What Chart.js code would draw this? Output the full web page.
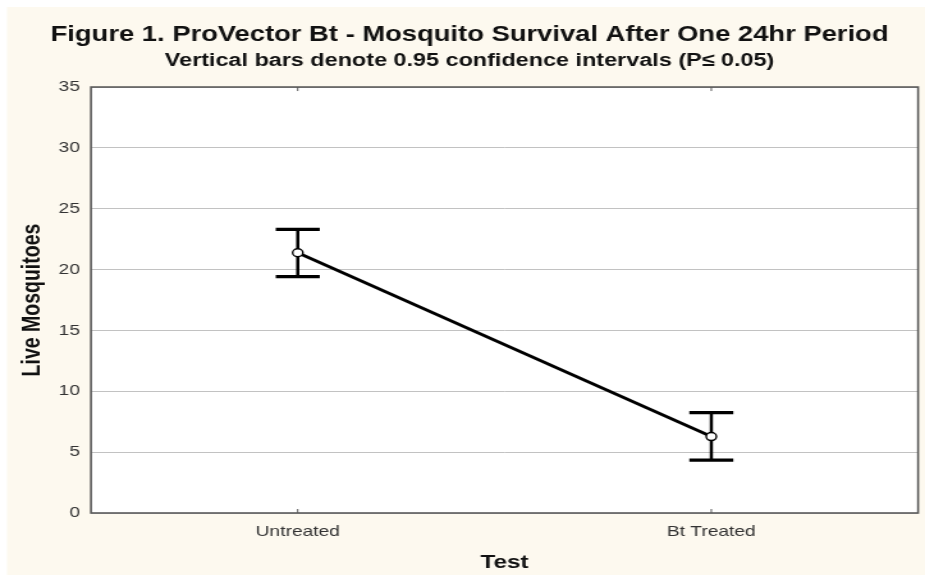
<!DOCTYPE html>
<html>
<head>
<meta charset="utf-8">
<script src="https://cdn.jsdelivr.net/npm/chart.js@4/dist/chart.umd.min.js"></script>
<style>
html,body{margin:0;padding:0;background:#fff;}
#wrap{width:925px;height:575px;position:relative;overflow:hidden;}
#c{display:block;width:925px;height:575px;}
</style>
</head>
<body>
<div id="wrap"><canvas id="c" width="723" height="575" style="width:925px;height:575px;"></canvas></div>
<script>
const categories = ["Untreated", "Bt Treated"];
const means = [21.38, 6.28];
const upperCI = [23.3, 8.25];
const lowerCI = [19.42, 4.35];
const yTicks = [0, 5, 10, 15, 20, 25, 30, 35];

const FONT = "'Liberation Sans', Arial, sans-serif";

const bgPlugin = {
  id: 'bg',
  beforeDraw(chart) {
    const ctx = chart.ctx;
    ctx.save();
    ctx.fillStyle = '#ffffff';
    ctx.fillRect(0, 0, chart.width, chart.height);
    ctx.fillStyle = '#fdf9ef';
    ctx.fillRect(5.5, 7, chart.width - 5.5, chart.height - 7);
    const a = chart.chartArea;
    ctx.fillStyle = '#ffffff';
    ctx.fillRect(a.left, a.top, a.right - a.left, a.bottom - a.top);
    ctx.restore();
  },
  afterDraw(chart) {
    const ctx = chart.ctx;
    const a = chart.chartArea;
    ctx.save();
    ctx.strokeStyle = '#5a5a5a';
    ctx.lineWidth = 1.6;
    ctx.strokeRect(a.left, a.top, a.right - a.left, a.bottom - a.top);
    const xs = chart.scales.x;
    ctx.lineWidth = 1;
    categories.forEach((c, i) => {
      const px = xs.getPixelForValue(i);
      ctx.beginPath();
      ctx.moveTo(px, a.bottom); ctx.lineTo(px, a.bottom - 4);
      ctx.moveTo(px, a.top); ctx.lineTo(px, a.top + 4);
      ctx.stroke();
    });
    ctx.restore();
  }
};

const errPlugin = {
  id: 'errbars',
  beforeDatasetsDraw(chart) {
    const ctx = chart.ctx;
    const xs = chart.scales.x, ys = chart.scales.y;
    ctx.save();
    ctx.strokeStyle = '#000';
    ctx.lineCap = 'butt';
    categories.forEach((c, i) => {
      const px = xs.getPixelForValue(i);
      const yt = ys.getPixelForValue(upperCI[i]);
      const yb = ys.getPixelForValue(lowerCI[i]);
      const hw = 17.2;
      ctx.lineWidth = 2.5;
      ctx.beginPath();
      ctx.moveTo(px, yt); ctx.lineTo(px, yb);
      ctx.stroke();
      ctx.lineWidth = 3.2;
      ctx.beginPath();
      ctx.moveTo(px - hw, yt); ctx.lineTo(px + hw, yt);
      ctx.moveTo(px - hw, yb); ctx.lineTo(px + hw, yb);
      ctx.stroke();
    });
    ctx.restore();
  }
};

new Chart(document.getElementById('c'), {
  type: 'line',
  data: {
    labels: categories,
    datasets: [{
      data: means,
      borderColor: '#000',
      borderWidth: 3,
      pointRadius: 4,
      pointBackgroundColor: '#fff',
      pointBorderColor: '#000',
      pointBorderWidth: 1.4,
      tension: 0
    }]
  },
  options: {
    responsive: false,
    animation: false,
    devicePixelRatio: 1,
    layout: { padding: { left: 14, right: 3, top: 14, bottom: 0 } },
    plugins: {
      legend: { display: false },
      tooltip: { enabled: false },
      title: {
        display: true,
        text: 'Figure 1. ProVector Bt - Mosquito Survival After One 24hr Period',
        color: '#111',
        font: { family: FONT, size: 21.4, weight: 'bold' },
        padding: { top: 8.6, bottom: 0 }
      },
      subtitle: {
        display: true,
        text: 'Vertical bars denote 0.95 confidence intervals (P\u2264 0.05)',
        color: '#111',
        font: { family: FONT, size: 18.3, weight: 'bold' },
        padding: { top: 1.4, bottom: 15.4 }
      }
    },
    scales: {
      x: {
        type: 'category',
        offset: true,
        afterFit(scale) { scale.height = 62; },
        grid: { display: false, drawTicks: false },
        border: { display: false },
        ticks: { color: '#333', font: { family: FONT, size: 15 }, padding: 10 },
        title: { display: true, text: 'Test', color: '#111', font: { family: FONT, size: 19, weight: 'bold' }, padding: { top: 0, bottom: 1.2 } }
      },
      y: {
        min: 0, max: 35,
        afterFit(scale) { scale.width = 57.1; },
        afterBuildTicks(scale) { scale.ticks = yTicks.map(v => ({ value: v })); },
        grid: { color: '#c2c2c2', lineWidth: 1, drawTicks: false },
        border: { display: false },
        ticks: { color: '#333', font: { family: FONT, size: 15 }, padding: 8.6 },
        title: { display: true, text: 'Live Mosquitoes', color: '#111', font: { family: FONT, size: 19.5, weight: 'bold' }, padding: { top: 0, bottom: 0 } }
      }
    }
  },
  plugins: [bgPlugin, errPlugin]
});
</script>
</body>
</html>
